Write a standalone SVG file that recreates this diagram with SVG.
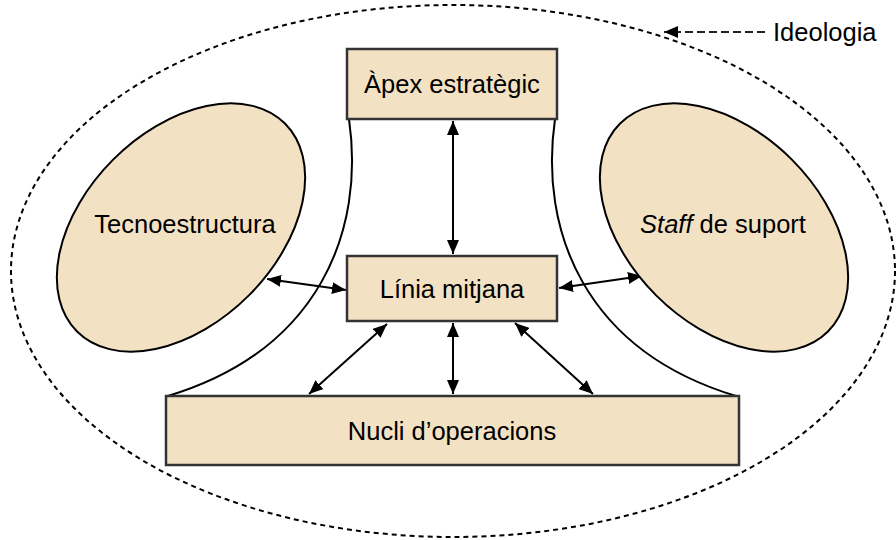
<svg xmlns="http://www.w3.org/2000/svg" width="896" height="540" viewBox="0 0 896 540">
<defs>
<marker id="ah" viewBox="0 0 14 12" refX="14" refY="6" markerWidth="14" markerHeight="12" markerUnits="userSpaceOnUse" orient="auto-start-reverse">
<path d="M0,0 L14,6 L0,12 Z" fill="#000"/>
</marker>
</defs>
<style>
.box{fill:#F3E1C3;stroke:#333;stroke-width:2.5}
.ell{fill:#F3E1C3;stroke:#000;stroke-width:2}
.lbl{font-family:"Liberation Sans",Arial,sans-serif;font-size:25.5px;fill:#000;text-anchor:middle}
.con{stroke:#000;stroke-width:2;fill:none}
.arr{stroke:#000;stroke-width:2;fill:none;marker-start:url(#ah);marker-end:url(#ah)}
</style>
<rect width="896" height="540" fill="#fff"/>
<g id="ideologia">
<ellipse cx="453" cy="271" rx="442" ry="266" fill="none" stroke="#000" stroke-width="2" stroke-dasharray="5,4"/>
<line x1="765" y1="32" x2="664" y2="32" stroke="#222" stroke-width="2.2" stroke-dasharray="8,4" marker-end="url(#ah)"/>
<text class="lbl" x="773" y="41" style="text-anchor:start">Ideologia</text>
</g>
<g id="connectors">
<path class="con" d="M349,119 C365,230 320,350 168,396"/>
<path class="con" d="M555,119 C539,230 584,350 736,396"/>
<line class="arr" x1="453" y1="121" x2="453" y2="254"/>
<line class="arr" x1="267" y1="279" x2="346" y2="290"/>
<line class="arr" x1="559" y1="288" x2="642" y2="276"/>
<line class="arr" x1="387" y1="324" x2="309" y2="394"/>
<line class="arr" x1="453" y1="323" x2="453" y2="394"/>
<line class="arr" x1="515" y1="323" x2="593" y2="394"/>
</g>
<g id="apex">
<rect class="box" x="347" y="49" width="210" height="70"/>
<text class="lbl" x="452" y="93">Àpex estratègic</text>
</g>
<g id="tecnoestructura">
<ellipse class="ell" cx="181" cy="227.5" rx="147" ry="96" transform="rotate(-45 181 227.5)"/>
<text class="lbl" x="185" y="233">Tecnoestructura</text>
</g>
<g id="staff">
<ellipse class="ell" cx="724" cy="227.5" rx="147" ry="96" transform="rotate(45 724 227.5)"/>
<text class="lbl" x="723" y="233"><tspan font-style="italic">Staff</tspan> de suport</text>
</g>
<g id="linia">
<rect class="box" x="347" y="256" width="210" height="65"/>
<text class="lbl" x="452" y="298">Línia mitjana</text>
</g>
<g id="nucli">
<rect class="box" x="166" y="396" width="573" height="69"/>
<text class="lbl" x="452" y="440">Nucli d’operacions</text>
</g>
</svg>
